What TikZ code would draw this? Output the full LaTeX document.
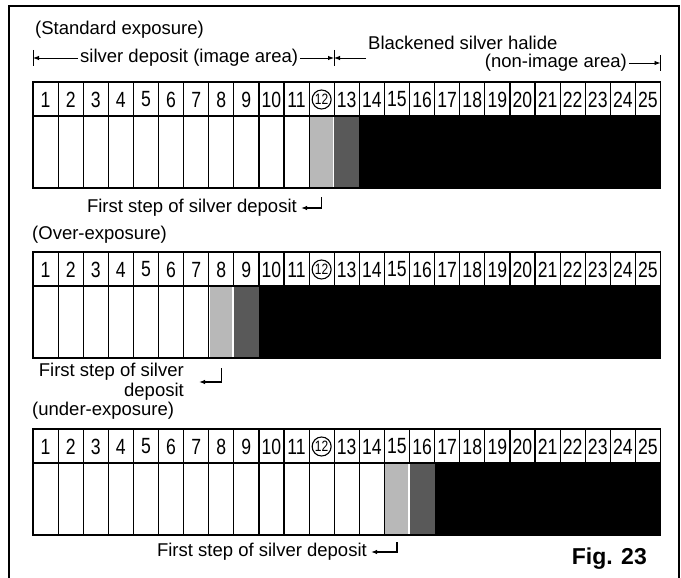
\documentclass[tikz,border=0pt]{standalone}
\usepackage{fontspec}
\setmainfont{Liberation Sans}
\newfontfamily\numfont{Liberation Sans}[FakeStretch=0.8]
\usepackage{tikz}
\usetikzlibrary{arrows.meta,positioning,calc}

\begin{document}
\begin{tikzpicture}[x=1pt, y=-1pt,
    lbl/.style={inner sep=0pt, font=\fontsize{18.5}{20}\selectfont},
    num/.style={inner sep=0pt, font=\numfont\fontsize{22}{22}\selectfont},
    cell/.style={draw, line width=1.2pt},
    lightstep/.style={fill=black!28},
    darkstep/.style={fill=black!65},
    dimline/.style={line width=0.9pt},
    dimarrow/.style={-{Latex[length=6pt,width=4.5pt]}, line width=0.9pt},
    hook/.style={-{Latex[length=6pt,width=4.5pt]}, line width=1.2pt},
    frame/.style={line width=1.8pt}
  ]
  \useasboundingbox (0,0) rectangle (681,578);
  \def\colw{25.1}

  % Frame
  \draw[frame] (9,578) -- (9,6) -- (679,6) -- (679,578);

  % Strips
  \foreach \ytop/\k/\nm in {82/12/std, 252/8/over, 429/15/under}{
    \pgfmathsetmacro{\ymid}{\ytop+34}
    \pgfmathsetmacro{\ybot}{\ytop+106}
    \pgfmathsetmacro{\xa}{33+(\k-1)*\colw}
    \pgfmathtruncatemacro{\kk}{\k-1}
    \fill[lightstep] (\xa+1,\ymid) rectangle (\xa+\colw-1.5,\ybot);
    \fill[darkstep] (\xa+\colw,\ymid) rectangle (\xa+2*\colw,\ybot);
    \fill (\xa+2*\colw,\ymid) rectangle (660.5,\ybot);
    \draw[cell] (33,\ytop) rectangle (660.5,\ybot);
    \draw[cell] (33,\ymid) -- (660.5,\ymid);
    \foreach \i in {1,...,24}
      \draw[cell] ({33+\i*\colw},\ytop) -- ({33+\i*\colw},\ymid);
    \foreach \i in {1,...,\kk}
      \draw[cell] ({33+\i*\colw},\ymid) -- ({33+\i*\colw},\ybot);
    \foreach \i in {1,...,25}
      \node[num] (\nm-\i) at ({33+(\i-0.5)*\colw},{\ytop+17.5})
        {\ifnum\i=12 \fontsize{15}{15}\selectfont\fi\i};
    \draw[line width=1.1pt] (\nm-12) circle (9.5);
  }

  % Headings
  \node[lbl, anchor=west] (stdlbl)   at (35,30)  {(Standard exposure)};
  \node[lbl, anchor=west] (overlbl)  at (32,235) {(Over-exposure)};
  \node[lbl, anchor=west] (underlbl) at (32,411) {(under-exposure)};

  % Dimension line
  \coordinate (dimL) at (33,58);
  \coordinate (dimM) at (334,58);
  \coordinate (dimR) at (660.5,63);
  \coordinate (blkend) at (366,58);
  \node[lbl, inner sep=2pt, anchor=west] (imgarea) at (78,58)
       {silver deposit (image area)};
  \node[lbl, anchor=west] (blk) at (368,43) {Blackened silver halide};
  \node[lbl, inner sep=2pt, anchor=east] (nonimg) at (629,63)
       {(non-image area)};
  \draw[dimline] (33,50) -- (33,66);
  \draw[dimline] (334,50) -- (334,66);
  \draw[dimline] (660.5,55) -- (660.5,71);
  \draw[dimarrow] (imgarea.west) -- (dimL);
  \draw[dimarrow] (imgarea.east) -- (dimM);
  \draw[dimarrow] (blkend) -- (dimM);
  \draw[dimarrow] (nonimg.east) -- (dimR);

  % First step labels
  \node[lbl, anchor=east] (fsstd) at (297,208)
       {First step of silver deposit};
  \draw[hook, shorten >=4pt] (std-12 |- 0,197) |- (fsstd.east);

  \node[lbl, anchor=east, align=right] (fsover) at (184,382)
       {First step of silver\\deposit};
  \draw[hook, shorten >=15pt] (over-8 |- 0,368) |- (fsover.east);

  \node[lbl, anchor=east] (fsunder) at (367,552)
       {First step of silver deposit};
  \draw[hook, shorten >=4pt] (under-15 |- 0,542) |- (fsunder.east);

  % Figure number
  \node[inner sep=0pt, anchor=east, font=\bfseries\fontsize{23}{23}\selectfont]
       (fig) at (647,559) {Fig. 23};
\end{tikzpicture}
\end{document}
